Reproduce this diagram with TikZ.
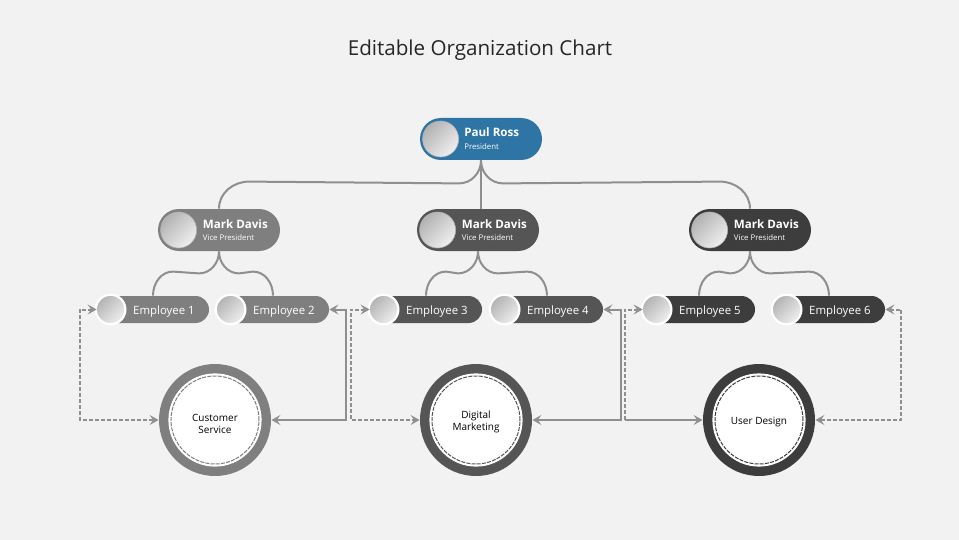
\documentclass[tikz,border=0pt]{standalone}
\usepackage{fontspec}
\setmainfont{Open Sans}
\usetikzlibrary{arrows.meta,calc,shapes.misc,positioning}
\definecolor{bgc}{HTML}{F2F2F2}
\definecolor{presblue}{RGB}{46,117,166}
\definecolor{lvlA}{HTML}{7F7F7F}
\definecolor{lvlB}{HTML}{555555}
\definecolor{lvlC}{HTML}{3D3D3D}
\definecolor{linkgray}{HTML}{8F8F8F}
\definecolor{avdark}{HTML}{B2B2B2}
\definecolor{avlight}{HTML}{EFEFEF}
\begin{document}
\begin{tikzpicture}[x=0.5pt,y=-0.5pt,
    >={Stealth[length=4.5pt,width=5pt,inset=1.8pt]},
    pill/.style={rounded rectangle,inner sep=0pt,minimum height=#1},
    bosspill/.style={pill=21pt,minimum width=61pt,fill=#1},
    emppill/.style={pill=13.5pt,minimum width=56pt,fill=#1},
    bossav/.style={circle,inner sep=0pt,minimum size=18pt,draw=black!30,line width=0.3pt,
      top color=avdark,bottom color=avlight,shading angle=45},
    empav/.style={circle,inner sep=0pt,minimum size=14.8pt,draw=white,line width=1.1pt,
      top color=avdark,bottom color=avlight,shading angle=45},
    bossname/.style={inner sep=0pt,anchor=west,text=white,font=\fontsize{5.8}{7}\selectfont\bfseries},
    bossrole/.style={inner sep=0pt,anchor=west,text=white,font=\fontsize{3.9}{5}\selectfont},
    emptext/.style={inner sep=0pt,text=white,font=\fontsize{5.7}{7}\selectfont},
    dept/.style={circle,inner sep=0pt,minimum size=56pt,fill=#1},
    deptin/.style={circle,inner sep=0pt,minimum size=46pt,fill=white},
    depttext/.style={inner sep=0pt,align=center,font=\fontsize{5}{6}\selectfont},
    tree/.style={draw=linkgray,line width=1pt},
    slink/.style={draw=linkgray,line width=1pt},
    dlink/.style={draw=linkgray,line width=1pt,dash pattern=on 2pt off 1pt}]

  \fill[bgc] (0,0) rectangle (959,540);
  \node[text=black!85,font=\fontsize{10.3}{12}\selectfont] (head) at (480,50) {Editable Organization Chart};

  % president and vice presidents
  \node[bosspill=presblue] (pres) at (481,139) {};
  \node[bosspill=lvlA] (vp1) at (219,230) {};
  \node[bosspill=lvlB] (vp2) at (478,230) {};
  \node[bosspill=lvlC] (vp3) at (750,230) {};
  \node[bossav] (presav) at ([xshift=10.5pt]pres.west) {};
  \node[bossname] (presname) at ([xshift=2.5pt,yshift=3.3pt]presav.east) {Paul Ross};
  \node[bossrole] (presrole) at ([xshift=2.5pt,yshift=-4pt]presav.east) {President};
  \foreach \v in {1,2,3} {
    \node[bossav] (vp\v av) at ([xshift=10.5pt]vp\v.west) {};
    \node[bossname] (vp\v name) at ([xshift=2.8pt,yshift=3pt]vp\v av.east) {Mark Davis};
    \node[bossrole] (vp\v role) at ([xshift=2.8pt,yshift=-4pt]vp\v av.east) {Vice President};
  }

  % employees
  \node[emppill=lvlA] (emp1) at (153,309.5) {};
  \node[emppill=lvlA] (emp2) at (273,309.5) {};
  \node[emppill=lvlB] (emp3) at (426,309.5) {};
  \node[emppill=lvlB] (emp4) at (547,309.5) {};
  \node[emppill=lvlC] (emp5) at (699,309.5) {};
  \node[emppill=lvlC] (emp6) at (829,309.5) {};
  \foreach \e in {1,...,6} {
    \node[empav] (emp\e av) at ([xshift=7pt]emp\e.west) {};
    \node[emptext] (emp\e lbl) at ($(emp\e av.east)!0.5!(emp\e.east)+(-4,2)$) {Employee \e};
  }

  % departments
  \node[dept=lvlA] (dep1) at (215,420) {};
  \node[dept=lvlB] (dep2) at (476,420) {};
  \node[dept=lvlC] (dep3) at (759,420) {};
  \draw[white,line width=0.6pt] (dep1) circle (23pt) (dep2) circle (23pt) (dep3) circle (23pt);
  \foreach \d/\c in {1/lvlA,2/lvlB,3/lvlC} {
    \node[deptin] (dep\d in) at (dep\d) {};
    \draw[\c,line width=0.5pt,dash pattern=on 2pt off 0.6pt] (dep\d) circle (22pt);
  }
  \node[depttext] (dep1txt) at ([yshift=-2pt]dep1.center) {Customer\\Service};
  \node[depttext] (dep2txt) at ([yshift=-1pt]dep2.center) {Digital\\Marketing};
  \node[depttext] (dep3txt) at ([yshift=-1pt]dep3.center) {User Design};

  % tree
  \draw[tree] (pres.south) -- (pres.south |- vp2.north);
  \draw[tree] (pres.south) to[out=-90,in=0] ++(-22,23) -- ($(vp1.north)+(30,-27)$) to[out=180,in=90] (vp1.north);
  \draw[tree] (pres.south) to[out=-90,in=180] ++(22,23) -- ($(vp3.north)+(-30,-27)$) to[out=0,in=90] (vp3.north);
  \foreach \v/\a/\b in {1/1/2,2/3/4,3/5/6} {
    \draw[tree] (vp\v.south) to[out=-90,in=0] ++(-20,22) -- ($(emp\a.north)+(20,-24)$) to[out=180,in=90] (emp\a.north);
    \draw[tree] (vp\v.south) to[out=-90,in=180] ++(20,22) -- ($(emp\b.north)+(-20,-24)$) to[out=0,in=90] (emp\b.north);
  }

  % links to departments
  \draw[dlink,<->] (emp1.west) -- ++(-17,0) |- (dep1.west);
  \draw[slink,<->] (emp2.east) -- ++(17,0) |- (dep1.east);
  \draw[dlink,<->] (emp3.west) -- ++(-19,0) |- (dep2.west);
  \draw[slink,<->] (emp4.east) -- ++(18,0) |- (dep2.east);
  \draw[dlink,<-] (emp5.west) -- ++(-18,0) coordinate (e5turn) -- (e5turn |- dep3.west) coordinate (e5foot);
  \draw[slink,->] (e5foot) -- (dep3.west);
  \draw[dlink,<->] (emp6.east) -- ++(16,0) |- (dep3.east);
\end{tikzpicture}
\end{document}
